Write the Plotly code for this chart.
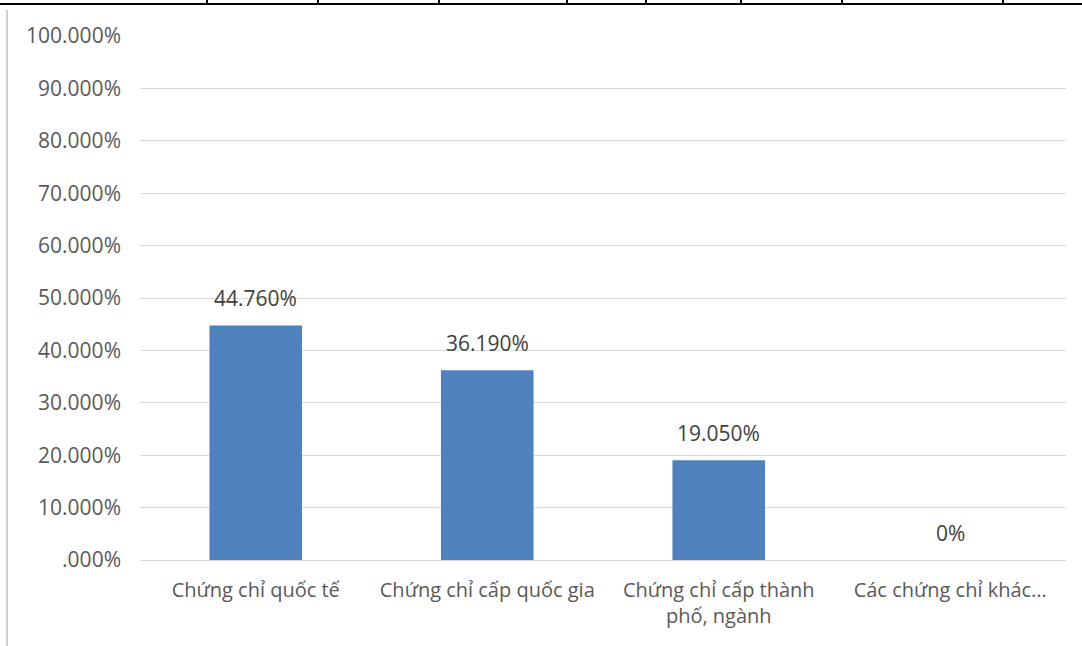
import plotly.graph_objects as go

categories = ["Chứng chỉ quốc tế", "Chứng chỉ cấp quốc gia", "Chứng chỉ cấp thành<br>phố, ngành", "Các chứng chỉ khác..."]
values = [0.4476, 0.3619, 0.1905, 0.0]
value_labels = ["44.760%", "36.190%", "19.050%", "0%"]
tick_vals = [0.0, 0.1, 0.2, 0.3, 0.4, 0.5, 0.6, 0.7, 0.8, 0.9, 1.0]
tick_text = [".000%", "10.000%", "20.000%", "30.000%", "40.000%", "50.000%",
             "60.000%", "70.000%", "80.000%", "90.000%", "100.000%"]

W, H = 1082, 646
ML, MR, MT, MB = 140, 16, 36, 86
FONT = "Open Sans"

fig = go.Figure(go.Bar(
    x=categories, y=values,
    marker=dict(color="#4F81BD", line=dict(width=0)),
    width=0.4,
))

for c, v, t in zip(categories, values, value_labels):
    fig.add_annotation(x=c, y=v, text=t, showarrow=False, yanchor="bottom", yshift=11,
                       font=dict(family=FONT, size=21, color="#404040"))

# decorative page borders (scanned document frame)
pw, ph = W - ML - MR, H - MT - MB
def px(x):
    return (x - ML) / pw
def py(y):
    return (H - MB - y) / ph

shapes = [
    dict(type="line", xref="paper", yref="paper", x0=px(0), x1=px(W), y0=py(4), y1=py(4),
         line=dict(color="black", width=2)),
    dict(type="line", xref="paper", yref="paper", x0=px(7), x1=px(7), y0=py(10), y1=py(H),
         line=dict(color="#d0d0d0", width=2)),
]
for xt in [207, 318, 439, 567, 646, 741, 842, 1003]:
    shapes.append(dict(type="line", xref="paper", yref="paper", x0=px(xt), x1=px(xt),
                       y0=py(0), y1=py(5), line=dict(color="black", width=2)))

fig.update_layout(
    width=W, height=H,
    margin=dict(l=ML, r=MR, t=MT, b=MB),
    paper_bgcolor="white", plot_bgcolor="white",
    showlegend=False, bargap=0.6,
    shapes=shapes,
    font=dict(family=FONT, size=20, color="#595959"),
    xaxis=dict(showgrid=False, showline=False, ticks="", ticklabelstandoff=16,
               tickfont=dict(family=FONT, size=20, color="#595959")),
    yaxis=dict(range=[0, 1.0], tickvals=tick_vals, ticktext=tick_text,
               showgrid=True, gridcolor="#d9d9d9", gridwidth=1,
               zeroline=True, zerolinecolor="#d9d9d9", zerolinewidth=1,
               showline=False, ticks="", ticklabelstandoff=18,
               tickfont=dict(family=FONT, size=21, color="#595959")),
)

fig.write_html("out.html", config={"displayModeBar": False},
               post_script="document.body.style.margin='0';document.body.style.overflow='hidden';")
